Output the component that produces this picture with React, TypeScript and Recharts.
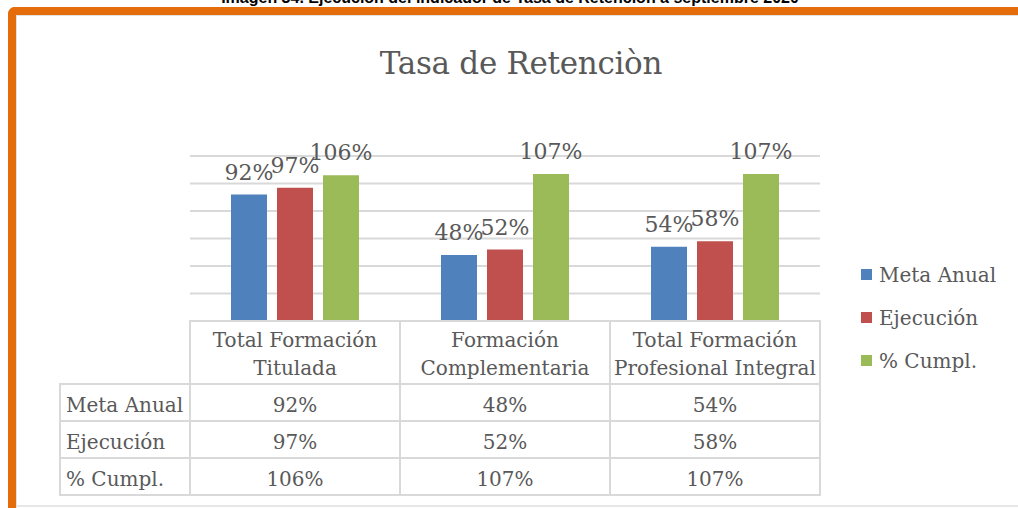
import { BarChart, Bar, XAxis, YAxis, CartesianGrid, LabelList } from 'recharts'

const categoryLines = [
  ['Total Formación', 'Titulada'],
  ['Formación', 'Complementaria'],
  ['Total Formación', 'Profesional Integral'],
]
const metaAnual = [92, 48, 54]
const ejecucion = [97, 52, 58]
const cumplimiento = [106, 107, 107]
const seriesNames = ['Meta Anual', 'Ejecución', '% Cumpl.']
const seriesKeys = ['meta', 'ejec', 'cumpl']
const seriesColors = ['#4F81BD', '#C0504D', '#9BBB59']
const yTicks = [0, 20, 40, 60, 80, 100, 120]

const seriesValues = [metaAnual, ejecucion, cumplimiento]
const data = categoryLines.map((lines, i) => ({
  name: lines.join(' '),
  meta: metaAnual[i],
  ejec: ejecucion[i],
  cumpl: cumplimiento[i],
}))

const FONT = '"DejaVu Serif", serif'
const GRAY = '#595959'
const LINE = '#d9d9d9'
const ORANGE = '#E46C0A'
const COL_W = 210
const LABEL_W = 130
const HEAD_H = 63
const ROW_H = 37

// data table drawn under each category through the x axis ticks
function TableTick(props: any) {
  const { x, y, payload } = props
  const i = props.index ?? payload.index
  const left = x - COL_W / 2
  const [l1, l2] = categoryLines[i]
  return (
    <g fontFamily={FONT} fontSize={20} fill={GRAY}>
      <rect x={left} y={y} width={COL_W} height={HEAD_H} fill="none" stroke={LINE} strokeWidth={2} />
      <text x={x} y={y + 26} textAnchor="middle">{l1}</text>
      <text x={x} y={y + 54} textAnchor="middle">{l2}</text>
      {seriesValues.map((vals, r) => {
        const top = y + HEAD_H + r * ROW_H
        return (
          <g key={r}>
            <rect x={left} y={top} width={COL_W} height={ROW_H} fill="none" stroke={LINE} strokeWidth={2} />
            <text x={x} y={top + 28} textAnchor="middle">{vals[i]}%</text>
            {i === 0 && (
              <>
                <rect x={left - LABEL_W} y={top} width={LABEL_W} height={ROW_H} fill="none" stroke={LINE} strokeWidth={2} />
                <text x={left - LABEL_W + 6} y={top + 28}>{seriesNames[r]}</text>
              </>
            )}
          </g>
        )
      })}
    </g>
  )
}

function LegendBox() {
  return (
    <div style={{ position: 'absolute', left: 861, top: 253, width: 157, fontFamily: FONT, fontSize: 20, color: GRAY }}>
      {seriesNames.map((n, i) => (
        <div key={n} style={{ display: 'flex', alignItems: 'center', height: 43 }}>
          <span style={{ width: 11, height: 11, background: seriesColors[i], marginRight: 7, display: 'inline-block' }} />
          {n}
        </div>
      ))}
    </div>
  )
}

export default function App() {
  return (
    <div style={{ position: 'fixed', left: 0, top: 0, width: 1018, height: 508, background: '#fff', overflow: 'hidden' }}>
      <div style={{ position: 'absolute', left: 8, top: 7, width: 1010, height: 8, background: ORANGE, borderTopLeftRadius: 7 }} />
      <div style={{ position: 'absolute', left: 8, top: 7, width: 8, height: 501, background: ORANGE, borderTopLeftRadius: 7 }} />
      <div style={{ position: 'absolute', left: 16, top: 15, width: 1002, height: 1, background: '#e2e2e2' }} />
      <div style={{ position: 'absolute', left: 16, top: 15, width: 1, height: 493, background: '#e2e2e2' }} />
      <div style={{ position: 'absolute', left: 16, top: 505, width: 1002, height: 2, background: '#e6e6e6' }} />
      <BarChart
        width={1018}
        height={508}
        data={data}
        margin={{ top: 156, right: 198, left: 190, bottom: 0 }}
        barSize={36}
        barGap={10}
        style={{ position: 'absolute', left: 0, top: 0 }}
      >
        <CartesianGrid vertical={false} stroke={LINE} strokeWidth={2} />
        <YAxis hide domain={[0, 120]} ticks={yTicks} />
        <XAxis
          dataKey="name"
          height={187}
          axisLine={false}
          tickLine={false}
          tickSize={0}
          tickMargin={0}
          interval={0}
          tick={<TableTick />}
        />
        {seriesKeys.map((k, i) => (
          <Bar key={k} dataKey={k} name={seriesNames[i]} fill={seriesColors[i]} isAnimationActive={false}>
            <LabelList
              dataKey={k}
              position="top"
              offset={15}
              fill={GRAY}
              fontSize={22}
              fontFamily={FONT}
              formatter={(v: any) => `${v}%`}
            />
          </Bar>
        ))}
      </BarChart>
      <LegendBox />
      <svg width={1018} height={508} style={{ position: 'absolute', left: 0, top: 0, pointerEvents: 'none' }}>
        <text x={510} y={3} textAnchor="middle" fontFamily='"Liberation Sans", sans-serif' fontWeight="bold" fontSize={16} fill="#000">
          Imagen 34. Ejecución del indicador de Tasa de Retención a septiembre 2020
        </text>
        <text x={521} y={74} textAnchor="middle" fontFamily={FONT} fontSize={31} fill={GRAY} letterSpacing={-0.3}>
          Tasa de Retenciòn
        </text>
      </svg>
    </div>
  )
}
